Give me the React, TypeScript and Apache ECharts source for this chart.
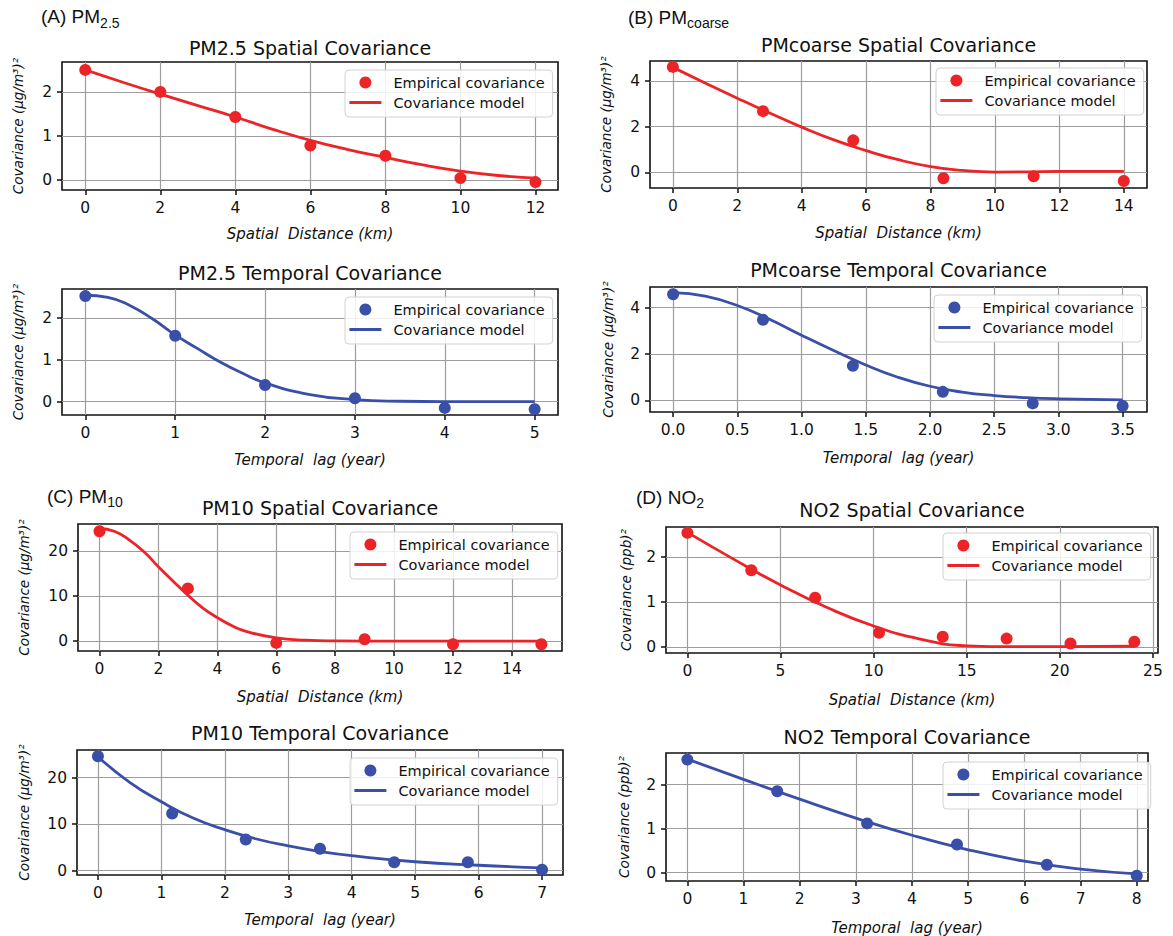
import React, { useEffect, useRef } from "react";
import * as echarts from "echarts";

// ---------- DATA ----------
// (A) PM2.5
const pm25SpatialLag = [0, 2, 4, 6, 8, 10, 12];
const pm25SpatialEmp = [2.5, 2.0, 1.43, 0.78, 0.55, 0.04, -0.05];
const pm25SpatialModelLag = [0, 1, 2, 3, 4, 5, 6, 7, 8, 9, 10, 11, 12];
const pm25SpatialModel = [2.5, 2.22, 1.95, 1.69, 1.43, 1.15, 0.9, 0.69, 0.51, 0.34, 0.2, 0.1, 0.04];

const pm25TemporalLag = [0, 1, 2, 3, 4, 5];
const pm25TemporalEmp = [2.53, 1.58, 0.4, 0.08, -0.15, -0.18];
const pm25TemporalModelLag = [0, 0.25, 0.5, 0.75, 1, 1.25, 1.5, 1.75, 2, 2.5, 3, 3.5, 4, 5];
const pm25TemporalModel = [2.55, 2.5, 2.3, 1.98, 1.6, 1.27, 0.95, 0.68, 0.45, 0.17, 0.05, 0.01, 0, 0];

// (B) PMcoarse
const pmcSpatialLag = [0, 2.8, 5.6, 8.4, 11.2, 14];
const pmcSpatialEmp = [4.62, 2.68, 1.4, -0.26, -0.18, -0.38];
const pmcSpatialModelLag = [0, 1, 2, 3, 4, 5, 6, 7, 8, 9, 10, 11, 12, 13, 14];
const pmcSpatialModel = [4.6, 3.92, 3.25, 2.6, 1.98, 1.42, 0.95, 0.55, 0.25, 0.08, 0.01, 0.02, 0.04, 0.04, 0.04];

const pmcTemporalLag = [0, 0.7, 1.4, 2.1, 2.8, 3.5];
const pmcTemporalEmp = [4.58, 3.48, 1.49, 0.37, -0.13, -0.24];
const pmcTemporalModelLag = [0, 0.25, 0.5, 0.75, 1, 1.25, 1.5, 1.75, 2, 2.25, 2.5, 2.75, 3, 3.5];
const pmcTemporalModel = [4.65, 4.5, 4.09, 3.5, 2.81, 2.15, 1.53, 1.0, 0.61, 0.36, 0.21, 0.12, 0.07, 0.02];

// (C) PM10
const pm10SpatialLag = [0, 3, 6, 9, 12, 15];
const pm10SpatialEmp = [24.4, 11.7, -0.4, 0.4, -0.7, -0.7];
const pm10SpatialModelLag = [0, 0.5, 1, 1.5, 2, 2.5, 3, 3.5, 4, 4.5, 5, 6, 7, 8, 10, 15];
const pm10SpatialModel = [25, 24.4, 22.5, 19.9, 16.5, 13.3, 10.2, 7.4, 5.2, 3.4, 2.1, 0.7, 0.2, 0.05, 0, 0];

const pm10TemporalLag = [0, 1.17, 2.33, 3.5, 4.67, 5.83, 7];
const pm10TemporalEmp = [24.6, 12.3, 6.7, 4.7, 1.8, 1.8, 0.2];
const pm10TemporalModelLag = [0, 0.5, 1, 1.5, 2, 2.5, 3, 3.5, 4, 5, 6, 7];
const pm10TemporalModel = [24.5, 19, 14.8, 11.3, 8.8, 6.8, 5.3, 4.1, 3.2, 1.9, 1.15, 0.6];

// (D) NO2
const no2SpatialLag = [0, 3.43, 6.86, 10.29, 13.71, 17.14, 20.57, 24];
const no2SpatialEmp = [2.54, 1.71, 1.1, 0.32, 0.23, 0.19, 0.08, 0.12];
const no2SpatialModelLag = [0, 2.5, 5, 7.5, 10, 12.5, 15, 17.5, 20, 24];
const no2SpatialModel = [2.55, 1.95, 1.38, 0.88, 0.47, 0.18, 0.03, 0.01, 0.01, 0.02];

const no2TemporalLag = [0, 1.6, 3.2, 4.8, 6.4, 8];
const no2TemporalEmp = [2.57, 1.85, 1.12, 0.64, 0.18, -0.07];
const no2TemporalModelLag = [0, 1, 2, 3, 4, 5, 6, 7, 8];
const no2TemporalModel = [2.58, 2.12, 1.67, 1.24, 0.85, 0.52, 0.26, 0.08, -0.03];

// tick labels
const ticks0to12 = [0, 2, 4, 6, 8, 10, 12];
const ticks0to5 = [0, 1, 2, 3, 4, 5];
const ticks0to14 = [0, 2, 4, 6, 8, 10, 12, 14];
const ticks0to35 = [0, 0.5, 1, 1.5, 2, 2.5, 3, 3.5];
const ticks0to7 = [0, 1, 2, 3, 4, 5, 6, 7];
const ticks0to25 = [0, 5, 10, 15, 20, 25];
const ticks0to8 = [0, 1, 2, 3, 4, 5, 6, 7, 8];
const yTicks012 = [0, 1, 2];
const yTicks024 = [0, 2, 4];
const yTicks01020 = [0, 10, 20];

const legendNames = ["Empirical covariance", "Covariance model"];
const spatialName = "Spatial  Distance (km)";
const temporalName = "Temporal  lag (year)";
const ugName = "Covariance (μg/m³)²";
const ppbName = "Covariance (ppb)²";

const RED = "#ec2327";
const BLUE = "#3a4fa7";
const FONT = "DejaVu Sans";

const zip = (xs: number[], ys: number[]) => xs.map((x, i) => [x, ys[i]]);

const panels = [
  {
    title: "PM2.5 Spatial Covariance", color: RED,
    grid: { left: 62, top: 62, width: 496, height: 128 },
    x: [-0.62, 12.6], y: [-0.23, 2.68], xTicks: ticks0to12, yTicks: yTicks012,
    xName: spatialName, yName: ugName, yGap: 37, xGap: 36,
    legend: [345, 70], titleY: 48,
    emp: zip(pm25SpatialLag, pm25SpatialEmp), mod: zip(pm25SpatialModelLag, pm25SpatialModel),
  },
  {
    title: "PM2.5 Temporal Covariance", color: BLUE,
    grid: { left: 62, top: 289, width: 496, height: 126 },
    x: [-0.26, 5.26], y: [-0.32, 2.7], xTicks: ticks0to5, yTicks: yTicks012,
    xName: temporalName, yName: ugName, yGap: 37, xGap: 37,
    legend: [345, 297], titleY: 273,
    emp: zip(pm25TemporalLag, pm25TemporalEmp), mod: zip(pm25TemporalModelLag, pm25TemporalModel),
  },
  {
    title: "PMcoarse Spatial Covariance", color: RED,
    grid: { left: 650, top: 61, width: 497, height: 127 },
    x: [-0.71, 14.72], y: [-0.69, 4.88], xTicks: ticks0to14, yTicks: yTicks024,
    xName: spatialName, yName: ugName, yGap: 37, xGap: 37,
    legend: [936, 68], titleY: 45,
    emp: zip(pmcSpatialLag, pmcSpatialEmp), mod: zip(pmcSpatialModelLag, pmcSpatialModel),
  },
  {
    title: "PMcoarse Temporal Covariance", color: BLUE,
    grid: { left: 650, top: 287, width: 497, height: 125 },
    x: [-0.18, 3.69], y: [-0.5, 4.89], xTicks: ticks0to35, yTicks: yTicks024, xFixed: 1,
    xName: temporalName, yName: ugName, yGap: 35, xGap: 38,
    legend: [934, 295], titleY: 270,
    emp: zip(pmcTemporalLag, pmcTemporalEmp), mod: zip(pmcTemporalModelLag, pmcTemporalModel),
  },
  {
    title: "PM10 Spatial Covariance", color: RED,
    grid: { left: 78, top: 524, width: 484, height: 127 },
    x: [-0.73, 15.7], y: [-2.2, 26], xTicks: ticks0to14, yTicks: yTicks01020,
    xName: spatialName, yName: ugName, yGap: 47, xGap: 38,
    legend: [350, 532], titleY: 508,
    emp: zip(pm10SpatialLag, pm10SpatialEmp), mod: zip(pm10SpatialModelLag, pm10SpatialModel),
  },
  {
    title: "PM10 Temporal Covariance", color: BLUE,
    grid: { left: 77, top: 750, width: 486, height: 125 },
    x: [-0.33, 7.33], y: [-0.95, 25.95], xTicks: ticks0to7, yTicks: yTicks01020,
    xName: temporalName, yName: ugName, yGap: 46, xGap: 37,
    legend: [350, 758], titleY: 733,
    emp: zip(pm10TemporalLag, pm10TemporalEmp), mod: zip(pm10TemporalModelLag, pm10TemporalModel),
  },
  {
    title: "NO2 Spatial Covariance", color: RED,
    grid: { left: 666, top: 527, width: 492, height: 126 },
    x: [-1.15, 25.27], y: [-0.13, 2.67], xTicks: ticks0to25, yTicks: yTicks012,
    xName: spatialName, yName: ppbName, yGap: 33, xGap: 39,
    legend: [943, 533], titleY: 510,
    emp: zip(no2SpatialLag, no2SpatialEmp), mod: zip(no2SpatialModelLag, no2SpatialModel),
  },
  {
    title: "NO2 Temporal Covariance", color: BLUE,
    grid: { left: 666, top: 753, width: 482, height: 128 },
    x: [-0.38, 8.2], y: [-0.19, 2.72], xTicks: ticks0to8, yTicks: yTicks012,
    xName: temporalName, yName: ppbName, yGap: 35, xGap: 39,
    legend: [943, 762], titleY: 737,
    emp: zip(no2TemporalLag, no2TemporalEmp), mod: zip(no2TemporalModelLag, no2TemporalModel),
  },
];

const panelLabels = [
  { main: "(A) PM", sub: "2.5", x: 41, y: 16.5 },
  { main: "(B) PM", sub: "coarse", x: 628, y: 17 },
  { main: "(C) PM", sub: "10", x: 47, y: 496 },
  { main: "(D) NO", sub: "2", x: 636, y: 497 },
];

function buildOption() {
  const grid: any[] = [];
  const xAxis: any[] = [];
  const yAxis: any[] = [];
  const series: any[] = [];
  const legend: any[] = [];
  const graphic: any[] = [];

  panels.forEach((p, i) => {
    grid.push({
      ...p.grid,
      show: true,
      borderColor: "#111",
      borderWidth: 1.6,
      backgroundColor: "transparent",
      containLabel: false,
      outerBoundsMode: "none",
    });
    const splitLine = { show: true, lineStyle: { color: "#9d9d9d", width: 1.2 } };
    xAxis.push({
      type: "value",
      gridIndex: i,
      min: p.x[0],
      max: p.x[1],
      axisLine: { show: false, onZero: false },
      axisTick: { show: true, length: 5, lineStyle: { color: "#111", width: 1.5 }, customValues: p.xTicks },
      axisLabel: {
        customValues: p.xTicks,
        fontSize: 15.5,
        fontFamily: FONT,
        color: "#111",
        margin: 10,
        formatter: (v: number) => ((p as any).xFixed ? v.toFixed(1) : String(v)),
      },
      splitLine: { ...splitLine, customValues: p.xTicks },
      name: p.xName,
      nameLocation: "middle",
      nameGap: p.xGap,
      nameTextStyle: { fontSize: 15, fontStyle: "italic", fontFamily: FONT, color: "#111" },
    });
    yAxis.push({
      type: "value",
      gridIndex: i,
      min: p.y[0],
      max: p.y[1],
      axisLine: { show: false, onZero: false },
      axisTick: { show: true, length: 5, lineStyle: { color: "#111", width: 1.5 }, customValues: p.yTicks },
      axisLabel: {
        customValues: p.yTicks,
        fontSize: 15.5,
        fontFamily: FONT,
        color: "#111",
        margin: 10,
      },
      splitLine: { ...splitLine, customValues: p.yTicks },
      name: p.yName,
      nameLocation: "middle",
      nameRotate: 90,
      nameGap: p.yGap,
      nameTextStyle: { fontSize: 13.5, fontStyle: "italic", fontFamily: FONT, color: "#111" },
    });
    series.push({
      type: "line",
      name: legendNames[1],
      xAxisIndex: i,
      yAxisIndex: i,
      data: p.mod,
      symbol: "none",
      showSymbol: false,
      smooth: 0.5,
      lineStyle: { color: p.color, width: 2.8 },
      itemStyle: { color: p.color },
      z: 2,
    });
    series.push({
      type: "scatter",
      name: legendNames[0],
      xAxisIndex: i,
      yAxisIndex: i,
      data: p.emp,
      symbol: "circle",
      symbolSize: 12,
      itemStyle: { color: p.color, opacity: 1 },
      z: 3,
    });
    legend.push({
      left: p.legend[0],
      top: p.legend[1],
      orient: "vertical",
      selectedMode: false,
      itemWidth: 32,
      itemHeight: 12,
      itemGap: 5,
      padding: [5, 8, 7, 3],
      backgroundColor: "rgba(255,255,255,0.85)",
      borderColor: "#d2d2d2",
      borderWidth: 1,
      borderRadius: 4,
      textStyle: { fontSize: 14.5, fontFamily: FONT, color: "#111", padding: [0, 0, 0, 7] },
      data: [
        { name: legendNames[0], icon: "circle", itemStyle: { color: p.color } },
        {
          name: legendNames[1],
          itemStyle: { color: "rgba(0,0,0,0)", opacity: 0, borderWidth: 0 },
          lineStyle: { color: p.color, width: 2.8, opacity: 1 },
        },
      ],
    });
    graphic.push({
      type: "text",
      x: p.grid.left + p.grid.width / 2,
      y: p.titleY,
      style: {
        text: p.title,
        fontSize: 19,
        fontFamily: FONT,
        fill: "#111",
        align: "center",
        verticalAlign: "middle",
      },
    });
  });

  panelLabels.forEach((l) => {
    graphic.push({
      type: "text",
      x: l.x,
      y: l.y,
      style: {
        text: l.main + "{sub|" + l.sub + "}",
        fontSize: 19,
        fontFamily: "Liberation Sans",
        fill: "#111",
        verticalAlign: "middle",
        rich: {
          sub: { fontSize: 14, fontFamily: "Liberation Sans", fill: "#111", padding: [12, 0, 0, 0] },
        },
      },
    });
  });

  return {
    animation: false,
    backgroundColor: "#ffffff",
    grid,
    xAxis,
    yAxis,
    series,
    legend,
    graphic,
  };
}

export default function App() {
  const ref = useRef<HTMLDivElement>(null);
  useEffect(() => {
    if (!ref.current) return;
    const chart = echarts.init(ref.current, undefined, { renderer: "svg" });
    chart.setOption(buildOption() as any);
    return () => chart.dispose();
  }, []);
  return (
    <div
      ref={ref}
      style={{ position: "fixed", left: 0, top: 0, width: 1173, height: 936, background: "#fff" }}
    />
  );
}
